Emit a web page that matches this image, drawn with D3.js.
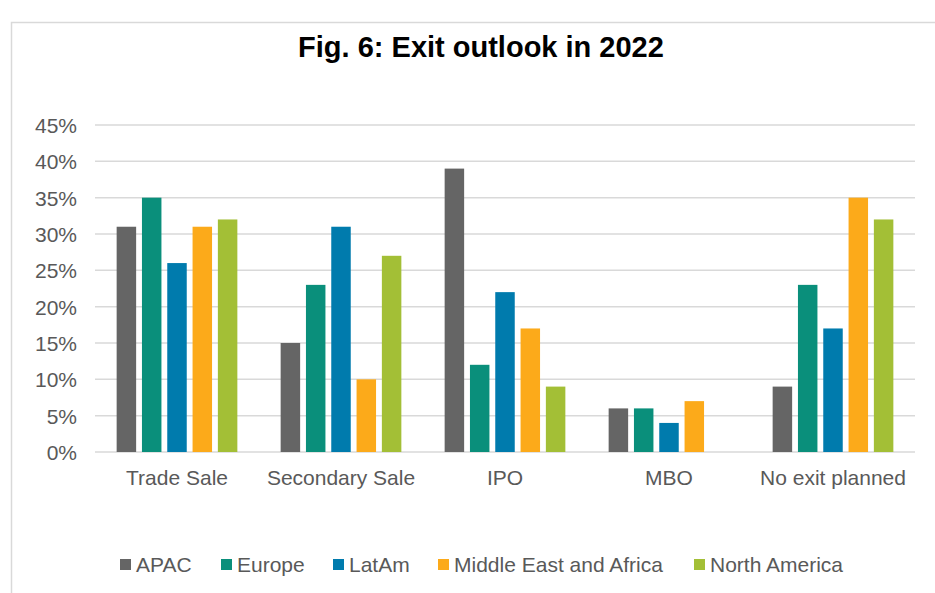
<!DOCTYPE html>
<html>
<head>
<meta charset="utf-8">
<script src="https://cdn.jsdelivr.net/npm/d3@7/dist/d3.min.js"></script>
<style>
  html, body { margin: 0; padding: 0; background: #ffffff; }
  svg { display: block; }
</style>
</head>
<body>
<script>
// Exit outlook by region, share of respondents (%)
const categories = ["Trade Sale", "Secondary Sale", "IPO", "MBO", "No exit planned"];
const regions = ["APAC", "Europe", "LatAm", "Middle East and Africa", "North America"];
const apac = [31, 15, 39, 6, 9];
const europe = [35, 23, 12, 6, 23];
const latam = [26, 31, 22, 4, 17];
const mea = [31, 10, 17, 7, 35];
const northAmerica = [32, 27, 9, 0, 32];
const yTicks = [0, 5, 10, 15, 20, 25, 30, 35, 40, 45];
const colors = ["#656565", "#0a8f7b", "#007bad", "#fcaa1a", "#a3bf36"];

const seriesValues = [apac, europe, latam, mea, northAmerica];

(function () {
  const W = 935, H = 593;
  const svg = d3.select("body").append("svg").attr("width", W).attr("height", H);

  // chart frame
  svg.append("rect")
    .attr("x", 11.5).attr("y", 22.5)
    .attr("width", W + 20).attr("height", H + 20)
    .attr("fill", "#ffffff").attr("stroke", "#d9d9d9").attr("stroke-width", 1.5);

  svg.append("text")
    .attr("x", 481).attr("y", 57)
    .attr("text-anchor", "middle")
    .attr("font-family", "Liberation Sans, Arial, sans-serif")
    .attr("font-weight", "bold").attr("font-size", 29)
    .attr("fill", "#000000")
    .text("Fig. 6: Exit outlook in 2022");

  const plotLeft = 95, plotRight = 915, plotTop = 125, plotBottom = 452;

  const y = d3.scaleLinear().domain([0, 45]).range([plotBottom, plotTop]);
  const x0 = d3.scaleBand().domain(categories).range([plotLeft, plotRight])
    .paddingInner(0.264).paddingOuter(0.132);
  const x1 = d3.scaleBand().domain(regions).range([0, x0.bandwidth()]).paddingInner(0.23);

  const font = "Liberation Sans, Arial, sans-serif";
  const textColor = "#595959";
  const fs = 21;

  // gridlines
  svg.append("g").selectAll("line").data(yTicks).join("line")
    .attr("x1", plotLeft).attr("x2", plotRight)
    .attr("y1", d => y(d)).attr("y2", d => y(d))
    .attr("stroke", "#d9d9d9").attr("stroke-width", 1.5);

  // y-axis labels
  const yAxis = d3.axisLeft(y).tickValues(yTicks).tickFormat(d => d + "%").tickSize(0).tickPadding(0);
  const ya = svg.append("g").attr("transform", "translate(77,0)").call(yAxis);
  ya.select(".domain").remove();
  ya.selectAll("text")
    .attr("font-family", font).attr("font-size", fs).attr("fill", textColor)
    .attr("dy", "0.36em");

  // bars
  const groups = svg.append("g").selectAll("g").data(categories).join("g")
    .attr("transform", d => `translate(${x0(d)},0)`);
  groups.selectAll("rect")
    .data((c, i) => regions.map((r, j) => ({ region: r, value: seriesValues[j][i], color: colors[j] })))
    .join("rect")
    .attr("x", d => x1(d.region))
    .attr("width", x1.bandwidth())
    .attr("y", d => y(d.value))
    .attr("height", d => y(0) - y(d.value))
    .attr("fill", d => d.color);

  // x-axis labels
  const xAxis = d3.axisBottom(d3.scaleBand().domain(categories).range([plotLeft, plotRight])).tickSize(0).tickPadding(0);
  const xa = svg.append("g").attr("transform", `translate(0,${plotBottom})`).call(xAxis);
  xa.select(".domain").remove();
  xa.selectAll("text")
    .attr("font-family", font).attr("font-size", fs).attr("fill", textColor)
    .attr("dy", null).attr("y", 33);

  // legend
  const legendX = [120, 221, 333, 438, 694];
  const leg = svg.append("g").selectAll("g").data(regions).join("g")
    .attr("transform", (d, i) => `translate(${legendX[i]},565)`);
  leg.append("rect")
    .attr("x", 0).attr("y", -6).attr("width", 11).attr("height", 11)
    .attr("fill", (d, i) => colors[i]);
  leg.append("text")
    .attr("x", 16).attr("y", 7)
    .attr("font-family", font).attr("font-size", fs).attr("fill", textColor)
    .text(d => d);
})();
</script>
</body>
</html>
